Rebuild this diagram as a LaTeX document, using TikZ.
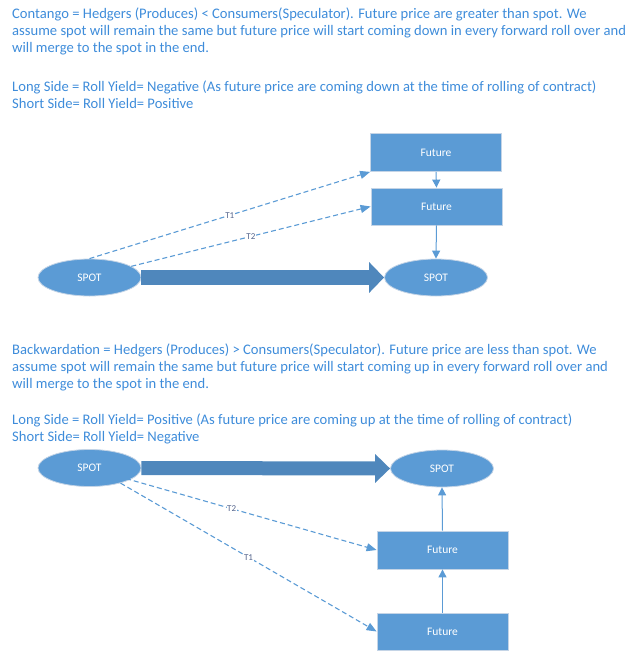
\documentclass[tikz,border=0pt]{standalone}
\usepackage{fontspec}
\setmainfont{Carlito}
\usetikzlibrary{shapes.geometric,arrows.meta}

\definecolor{txtblue}{RGB}{62,140,218}
\definecolor{boxblue}{RGB}{91,155,213}
\definecolor{bigblue}{RGB}{79,135,188}
\definecolor{edgegray}{RGB}{196,212,230}
\definecolor{lblgray}{RGB}{84,100,140}

\begin{document}
\begin{tikzpicture}[x=1pt,y=-1pt]
\tikzstyle{para}=[anchor=north west,inner sep=0pt,align=left,text=txtblue,
  font=\fontsize{14.6}{17.3}\selectfont]
\tikzstyle{future}=[rectangle,fill=boxblue,draw=edgegray,line width=0.8pt,
  minimum width=131pt,minimum height=38pt,text=white,font=\fontsize{11.5}{13}\selectfont]
\tikzstyle{spot}=[ellipse,fill=boxblue,draw=edgegray,line width=0.8pt,
  minimum width=103pt,minimum height=37pt,inner sep=0pt,text=white,font=\fontsize{11.5}{13}\selectfont]
\tikzstyle{roll}=[draw=boxblue,dashed,dash pattern=on 5pt off 3pt,line width=1.1pt,-{Triangle[length=10pt,width=8pt]}]
\tikzstyle{merge}=[draw=boxblue,line width=1pt,-{Triangle[length=8pt,width=8pt]}]
\tikzstyle{tlabel}=[fill=white,inner sep=0.5pt,text=lblgray,font=\fontsize{9}{10}\selectfont]
\useasboundingbox (0,0) rectangle (642,662);

% contango
\node[para] (contxt) at (12,7.5) {Contango = Hedgers (Produces) < Consumers(Speculator). Future price are greater than spot. We\\
assume spot will remain the same but future price will start coming down in every forward roll over and\\
will merge to the spot in the end.\\[21pt]
Long Side = Roll Yield= Negative (As future price are coming down at the time of rolling of contract)\\
Short Side= Roll Yield= Positive};

\node[future] (fut1) at (436,152.5) {Future};
\node[future,minimum height=37pt] (fut2) at (436.5,206.5) {Future};
\node[spot] (spotA) at (89.5,277.5) {SPOT};
\node[spot] (spotB) at (436,277.5) {SPOT};

\draw[bigblue,line width=15pt,-{Triangle[length=15pt,width=30pt]}] (spotA.east) -- (spotB.west);
\draw[roll] (spotA.north) -- (fut1.south west) node[tlabel,pos=0.5] {T1};
\draw[roll] (spotA.15) -- (fut2.west) node[tlabel,pos=0.5] {T2};
\draw[merge] (fut1.south) -- (fut2.north);
\draw[merge] (fut2.south) -- (spotB.north);

% backwardation
\node[para] (backtxt) at (12,343.5) {Backwardation = Hedgers (Produces) > Consumers(Speculator). Future price are less than spot. We\\
assume spot will remain the same but future price will start coming up in every forward roll over and\\
will merge to the spot in the end.\\[18pt]
Long Side = Roll Yield= Positive (As future price are coming up at the time of rolling of contract)\\
Short Side= Roll Yield= Negative};

\node[spot] (spotC) at (89.5,468) {SPOT};
\node[spot] (spotD) at (442,468.5) {SPOT};
\node[future] (futA) at (442.5,550) {Future};
\node[future,minimum height=37pt] (futB) at (442.5,631.5) {Future};
\coordinate (spotCin) at (103,472);

\draw[bigblue,line width=14pt,-{Triangle[length=15pt,width=28pt]}] (spotC.east) -- (spotD.west);
\draw[roll] (spotCin) -- (futA.west) node[tlabel,pos=0.47] {T2};
\draw[roll] (spotC.-26) -- (futB.west) node[tlabel,pos=0.5] {T1};
\draw[merge] (futB.north) -- (futA.south);
\draw[merge] (futA.north) -- (spotD.south);
\end{tikzpicture}
\end{document}
